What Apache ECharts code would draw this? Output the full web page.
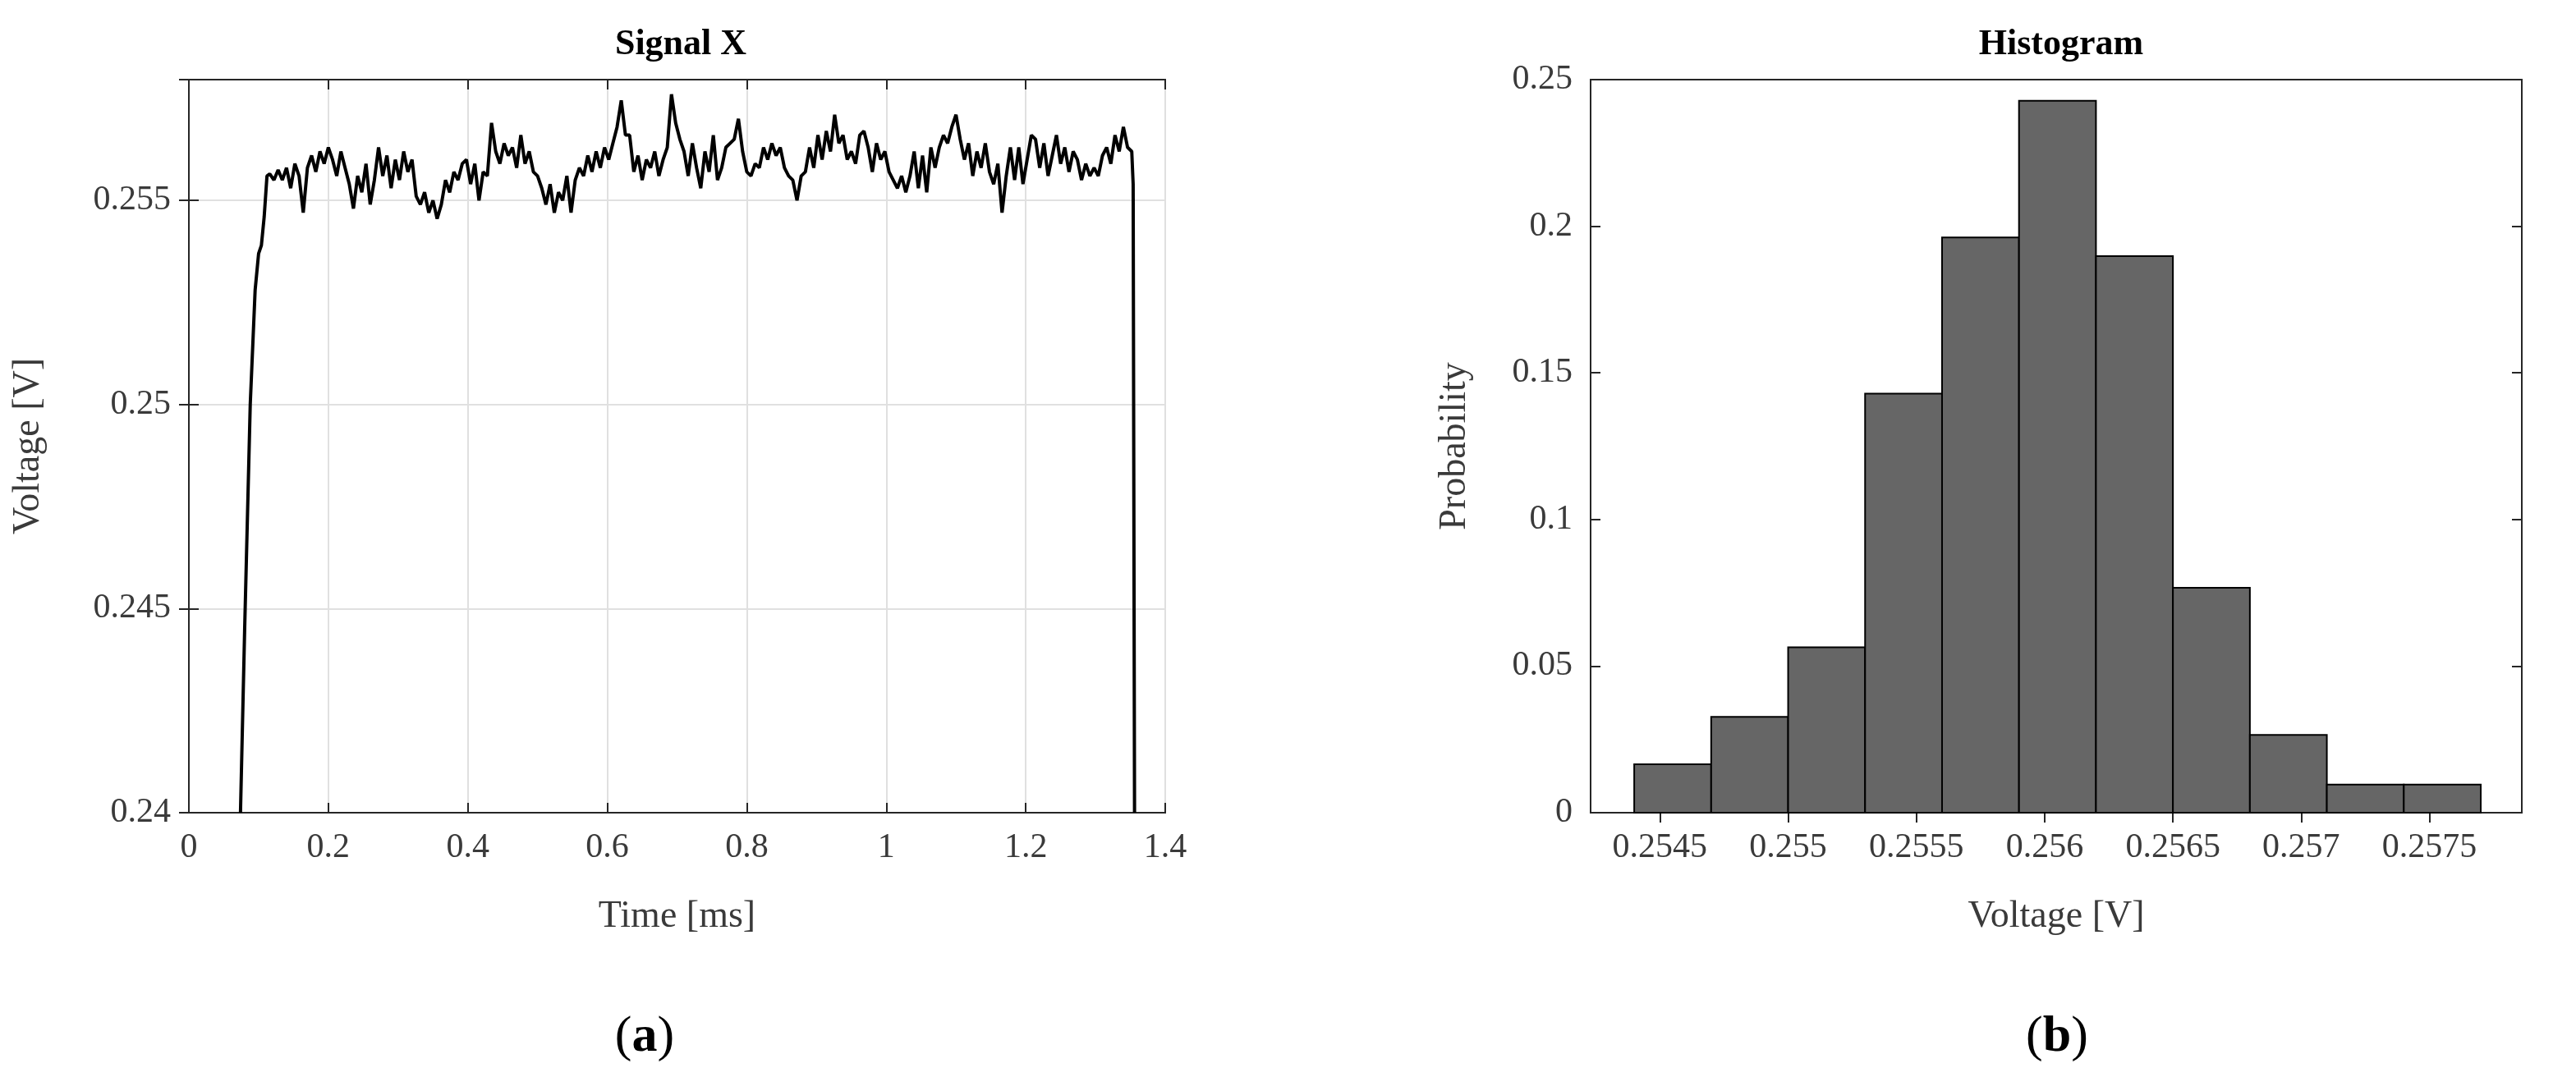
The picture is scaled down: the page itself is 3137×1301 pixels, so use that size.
<!DOCTYPE html>
<html>
<head>
<meta charset="utf-8"/>
<title>Signal X / Histogram</title>
<script src="https://cdn.jsdelivr.net/npm/echarts@6/dist/echarts.min.js"></script>
<style>
  html, body { margin: 0; padding: 0; background: #fff; }
  #main { width: 3137px; height: 1301px; }
</style>
</head>
<body>
<div id="main"></div>
<script>
// signal X : [time ms, voltage V]
var signalX = [
  [0.074, 0.2400], [0.080, 0.2445], [0.088, 0.2500], [0.095, 0.2528], [0.100, 0.2537],
  [0.104, 0.2539], [0.108, 0.2546], [0.112, 0.2556],
  [0.116, 0.25565], [0.122, 0.2555], [0.128, 0.25575], [0.134, 0.2555], [0.140, 0.2558],
  [0.146, 0.2553], [0.152, 0.2559], [0.158, 0.2556], [0.164, 0.2547],
  [0.170, 0.2558], [0.176, 0.2561], [0.182, 0.2557], [0.188, 0.2562], [0.194, 0.2559],
  [0.200, 0.2563], [0.206, 0.2560], [0.212, 0.2556], [0.218, 0.2562], [0.224, 0.2558],
  [0.230, 0.2554], [0.236, 0.2548], [0.242, 0.2556], [0.248, 0.2552], [0.254, 0.2559],
  [0.260, 0.2549], [0.266, 0.2555],
  [0.272, 0.2563], [0.278, 0.2556], [0.284, 0.2561], [0.290, 0.2553], [0.296, 0.2560],
  [0.302, 0.2555], [0.308, 0.2562], [0.314, 0.2557], [0.320, 0.2560],
  [0.326, 0.2551], [0.332, 0.2549], [0.338, 0.2552], [0.344, 0.2547], [0.350, 0.2550],
  [0.356, 0.25455], [0.362, 0.2549],
  [0.368, 0.2555], [0.374, 0.2552], [0.380, 0.2557], [0.386, 0.2555], [0.392, 0.2559],
  [0.398, 0.2560],
  [0.404, 0.2554], [0.410, 0.2559], [0.416, 0.2550], [0.422, 0.2557], [0.428, 0.2556],
  [0.434, 0.2569], [0.440, 0.2562], [0.446, 0.2559], [0.452, 0.2564], [0.458, 0.2561],
  [0.464, 0.2563], [0.470, 0.2558], [0.476, 0.2566],
  [0.482, 0.2559], [0.488, 0.2562], [0.494, 0.2557], [0.500, 0.2556],
  [0.506, 0.2553], [0.512, 0.2549], [0.518, 0.2554], [0.524, 0.2547], [0.530, 0.2552],
  [0.536, 0.2550], [0.542, 0.2556], [0.548, 0.2547],
  [0.554, 0.2555], [0.560, 0.2558], [0.566, 0.2556], [0.572, 0.2561], [0.578, 0.2557],
  [0.584, 0.2562], [0.590, 0.2558], [0.596, 0.2563], [0.602, 0.2560], [0.608, 0.2564],
  [0.614, 0.2568], [0.620, 0.25745], [0.626, 0.2566],
  [0.632, 0.2566], [0.638, 0.2557], [0.644, 0.2561], [0.650, 0.2555], [0.656, 0.2560],
  [0.662, 0.2558], [0.668, 0.2562], [0.674, 0.2556], [0.680, 0.2560],
  [0.686, 0.2563], [0.692, 0.2576], [0.698, 0.2569],
  [0.704, 0.2565], [0.710, 0.2562], [0.716, 0.2556], [0.722, 0.2564], [0.728, 0.2558],
  [0.734, 0.2553], [0.740, 0.2562], [0.746, 0.2557], [0.752, 0.2566], [0.758, 0.2555],
  [0.764, 0.2558],
  [0.770, 0.2563], [0.776, 0.2564], [0.782, 0.2565], [0.788, 0.2570], [0.794, 0.2562],
  [0.800, 0.2557], [0.806, 0.2556], [0.812, 0.2559], [0.818, 0.2558],
  [0.824, 0.2563], [0.830, 0.2560], [0.836, 0.2564], [0.842, 0.2561], [0.848, 0.2563],
  [0.854, 0.2558],
  [0.860, 0.2556], [0.866, 0.2555], [0.872, 0.2550], [0.878, 0.2556], [0.884, 0.2557],
  [0.890, 0.2563], [0.896, 0.2558], [0.902, 0.2566], [0.908, 0.2560], [0.914, 0.2567],
  [0.920, 0.2562], [0.926, 0.2571], [0.932, 0.2564], [0.938, 0.2566], [0.944, 0.2560],
  [0.950, 0.2562], [0.956, 0.2559],
  [0.962, 0.2566], [0.968, 0.2567], [0.974, 0.2563], [0.980, 0.2557], [0.986, 0.2564],
  [0.992, 0.2560], [0.998, 0.2562],
  [1.004, 0.2557], [1.010, 0.2555], [1.016, 0.2553], [1.022, 0.2556], [1.028, 0.2552],
  [1.034, 0.2556],
  [1.040, 0.2562], [1.046, 0.2553], [1.052, 0.2561], [1.058, 0.2552], [1.064, 0.2563],
  [1.070, 0.2558],
  [1.076, 0.2563], [1.082, 0.2566], [1.088, 0.2564], [1.094, 0.2568], [1.100, 0.2571],
  [1.106, 0.2565],
  [1.112, 0.2560], [1.118, 0.2564], [1.124, 0.2556], [1.130, 0.2562], [1.136, 0.2558],
  [1.142, 0.2564], [1.148, 0.2557], [1.154, 0.2554], [1.160, 0.2559], [1.166, 0.2547],
  [1.172, 0.2556], [1.178, 0.2563], [1.184, 0.2555], [1.190, 0.2563], [1.196, 0.2554],
  [1.202, 0.2560],
  [1.208, 0.2566], [1.214, 0.2565], [1.220, 0.2558], [1.226, 0.2564], [1.232, 0.2556],
  [1.238, 0.2561], [1.244, 0.2566], [1.250, 0.2559], [1.256, 0.2563], [1.262, 0.2557],
  [1.268, 0.2562],
  [1.274, 0.2560], [1.280, 0.2555], [1.286, 0.2559], [1.292, 0.2556], [1.298, 0.2558],
  [1.304, 0.2556],
  [1.310, 0.2561], [1.316, 0.2563], [1.322, 0.2559], [1.328, 0.2566], [1.334, 0.2562],
  [1.340, 0.2568], [1.346, 0.2563],
  [1.352, 0.2562], [1.354, 0.2554], [1.356, 0.2400]
];

// histogram bins (left edge, right edge) and probabilities
var binEdges = [0.2544, 0.2547, 0.2550, 0.2553, 0.2556, 0.2559, 0.2562, 0.2565, 0.2568, 0.2571, 0.2574, 0.2577];
var binProb = [0.0165, 0.0327, 0.0564, 0.1429, 0.1962, 0.2428, 0.1898, 0.0767, 0.0265, 0.0096, 0.0096];
var histTicks = [0.2545, 0.255, 0.2555, 0.256, 0.2565, 0.257, 0.2575];

var histData = binProb.map(function (p, i) { return [binEdges[i], binEdges[i + 1], p]; });

var FONT = 'Liberation Serif';
var txt = '#3a3a3a';
var axisLine = { show: true, lineStyle: { color: '#262626', width: 2 } };
var tick = { show: true, inside: true, length: 12, lineStyle: { color: '#262626', width: 2 } };
var lbl = { color: txt, fontFamily: FONT, fontSize: 42, margin: 22 };
var panelLabel = { fontFamily: FONT, fontSize: 62, fontWeight: 'normal', color: '#000',
  rich: { a: { fontFamily: FONT, fontSize: 62, fontWeight: 'bold', color: '#000' } } };

var chart = echarts.init(document.getElementById('main'));
var option = {
  animation: false,
  backgroundColor: '#fff',
  title: [
    { text: 'Signal X', left: 824, top: 28, textAlign: 'center',
      textStyle: { fontFamily: FONT, fontWeight: 'bold', fontSize: 44, color: '#000' } },
    { text: 'Histogram', left: 2505, top: 28, textAlign: 'center',
      textStyle: { fontFamily: FONT, fontWeight: 'bold', fontSize: 44, color: '#000' } },
    { text: '({a|a})', left: 780, top: 1228, textAlign: 'center', textStyle: panelLabel },
    { text: '({a|b})', left: 2500, top: 1228, textAlign: 'center', textStyle: panelLabel }
  ],
  grid: [
    { left: 230, top: 97, width: 1189, height: 893, show: true, borderColor: '#262626', borderWidth: 2 },
    { left: 1937, top: 97, width: 1134, height: 893, show: true, borderColor: '#262626', borderWidth: 2 }
  ],
  xAxis: [
    { type: 'value', gridIndex: 0, min: 0, max: 1.4, interval: 0.2,
      name: 'Time [ms]', nameLocation: 'middle', nameGap: 104,
      nameTextStyle: { fontFamily: FONT, fontSize: 46, color: txt },
      axisLine: axisLine, axisTick: tick, axisLabel: lbl,
      splitLine: { show: true, lineStyle: { color: '#e0e0e0', width: 2 } } },
    { type: 'value', gridIndex: 0, position: 'top', min: 0, max: 1.4, interval: 0.2,
      axisLine: axisLine, axisTick: tick, axisLabel: { show: false }, splitLine: { show: false } },
    { type: 'value', gridIndex: 1, min: 0.25423, max: 0.25786,
      name: 'Voltage [V]', nameLocation: 'middle', nameGap: 104,
      nameTextStyle: { fontFamily: FONT, fontSize: 46, color: txt },
      axisLine: axisLine,
      axisTick: Object.assign({}, tick, { customValues: histTicks }),
      axisLabel: Object.assign({}, lbl, { customValues: histTicks }),
      splitLine: { show: false } },
    { type: 'value', gridIndex: 1, position: 'top', min: 0.25423, max: 0.25786,
      axisLine: axisLine, axisTick: Object.assign({}, tick, { customValues: histTicks }),
      axisLabel: { show: false }, splitLine: { show: false } }
  ],
  yAxis: [
    { type: 'value', gridIndex: 0, min: 0.24, max: 0.25796, interval: 0.005,
      name: 'Voltage [V]', nameLocation: 'middle', nameGap: 172,
      nameTextStyle: { fontFamily: FONT, fontSize: 46, color: txt },
      axisLine: axisLine, axisTick: tick,
      axisLabel: Object.assign({}, lbl, { showMaxLabel: false }),
      splitLine: { show: true, lineStyle: { color: '#e0e0e0', width: 2 } } },
    { type: 'value', gridIndex: 0, position: 'right', min: 0.24, max: 0.25796, interval: 0.005,
      axisLine: axisLine, axisTick: tick, axisLabel: { show: false }, splitLine: { show: false } },
    { type: 'value', gridIndex: 1, min: 0, max: 0.25, interval: 0.05,
      name: 'Probability', nameLocation: 'middle', nameGap: 142,
      nameTextStyle: { fontFamily: FONT, fontSize: 46, color: txt },
      axisLine: axisLine, axisTick: tick, axisLabel: lbl, splitLine: { show: false } },
    { type: 'value', gridIndex: 1, position: 'right', min: 0, max: 0.25, interval: 0.05,
      axisLine: axisLine, axisTick: tick, axisLabel: { show: false }, splitLine: { show: false } }
  ],
  series: [
    { type: 'line', xAxisIndex: 0, yAxisIndex: 0, data: signalX, symbol: 'none',
      clip: true, lineStyle: { color: '#000', width: 4 } },
    { type: 'custom', xAxisIndex: 2, yAxisIndex: 2, data: histData,
      encode: { x: [0, 1], y: 2 },
      renderItem: function (params, api) {
        var p0 = api.coord([api.value(0), api.value(2)]);
        var p1 = api.coord([api.value(1), 0]);
        return { type: 'rect',
          shape: { x: p0[0], y: p0[1], width: p1[0] - p0[0], height: p1[1] - p0[1] },
          style: { fill: '#666666', stroke: '#000', lineWidth: 2 } };
      } }
  ]
};
chart.setOption(option);
</script>
</body>
</html>
